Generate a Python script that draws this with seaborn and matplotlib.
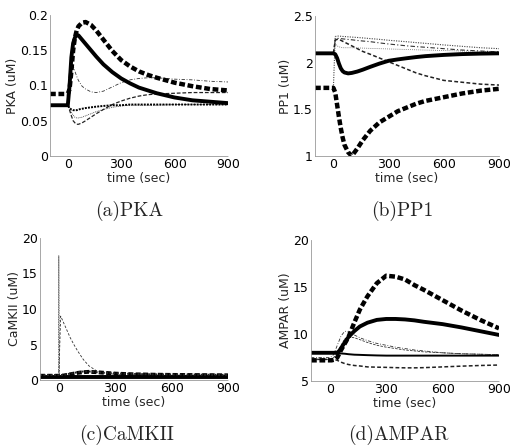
import numpy as np
import pandas as pd
import matplotlib
matplotlib.use("Agg")
import matplotlib.pyplot as plt
import seaborn as sns

sns.set_style("white")
plt.rcParams['font.family'] = ['DejaVu Sans']

# common time grid (sec)
t = [-100, 0, 10, 20, 30, 40, 50, 60, 80, 100, 130, 160, 200, 250, 300,
     350, 400, 450, 500, 600, 700, 800, 900]

# ---------------- (a) PKA ----------------
pka_thick_solid = [0.072, 0.072, 0.10, 0.14, 0.16, 0.168, 0.172, 0.171, 0.165, 0.159, 0.150,
                   0.141, 0.130, 0.119, 0.110, 0.103, 0.097, 0.093, 0.089, 0.083, 0.079, 0.077, 0.075]
pka_thick_dash = [0.088, 0.088, 0.095, 0.12, 0.15, 0.168, 0.178, 0.184, 0.189, 0.190, 0.186,
                  0.178, 0.165, 0.149, 0.136, 0.127, 0.120, 0.115, 0.111, 0.104, 0.099, 0.095, 0.093]
pka_thin_dashdot = [0.072, 0.072, 0.10, 0.13, 0.128, 0.12, 0.113, 0.107, 0.099, 0.095, 0.091,
                    0.090, 0.092, 0.098, 0.104, 0.108, 0.110, 0.111, 0.111, 0.109, 0.108, 0.106, 0.105]
pka_thin_dash = [0.072, 0.072, 0.065, 0.057, 0.050, 0.047, 0.045, 0.045, 0.047, 0.050, 0.055,
                 0.060, 0.066, 0.073, 0.078, 0.082, 0.085, 0.087, 0.088, 0.089, 0.090, 0.090, 0.090]
pka_thin_dot = [0.072, 0.072, 0.068, 0.062, 0.058, 0.055, 0.054, 0.054, 0.055, 0.057, 0.060,
                0.063, 0.066, 0.069, 0.071, 0.072, 0.072, 0.072, 0.072, 0.073, 0.073, 0.073, 0.073]
pka_mid_dot = [0.072, 0.072, 0.068, 0.066, 0.065, 0.065, 0.065, 0.066, 0.067, 0.068, 0.069,
               0.070, 0.071, 0.072, 0.072, 0.073, 0.073, 0.073, 0.073, 0.073, 0.073, 0.073, 0.073]

# ---------------- (b) PP1 ----------------
pp1_thick_solid = [2.10, 2.10, 2.09, 2.05, 1.99, 1.94, 1.91, 1.895, 1.885, 1.89, 1.905,
                   1.925, 1.955, 1.99, 2.02, 2.035, 2.048, 2.06, 2.07, 2.083, 2.092, 2.097, 2.10]
pp1_thick_dash = [1.73, 1.73, 1.68, 1.55, 1.42, 1.30, 1.20, 1.12, 1.04, 1.00, 1.08,
                  1.17, 1.27, 1.36, 1.42, 1.48, 1.52, 1.56, 1.59, 1.63, 1.67, 1.70, 1.72]
pp1_thin_dot = [np.nan, 1.73, 2.28, 2.285, 2.285, 2.283, 2.281, 2.28, 2.277, 2.274, 2.27,
                2.265, 2.258, 2.25, 2.24, 2.232, 2.224, 2.215, 2.207, 2.19, 2.175, 2.16, 2.15]
pp1_thin_dashdot = [np.nan, 2.10, 2.25, 2.26, 2.26, 2.258, 2.255, 2.253, 2.249, 2.245, 2.238,
                    2.232, 2.225, 2.212, 2.20, 2.19, 2.18, 2.172, 2.165, 2.15, 2.135, 2.125, 2.115]
pp1_thin_dash = [np.nan, 2.10, 2.24, 2.25, 2.25, 2.24, 2.23, 2.22, 2.20, 2.18, 2.15,
                 2.12, 2.09, 2.05, 2.01, 1.97, 1.93, 1.89, 1.86, 1.81, 1.79, 1.77, 1.76]
pp1_thin_dot2 = [np.nan, 2.10, 2.20, 2.18, 2.17, 2.165, 2.16, 2.16, 2.16, 2.16, 2.158,
                 2.156, 2.153, 2.15, 2.147, 2.144, 2.141, 2.138, 2.135, 2.13, 2.125, 2.12, 2.118]

# ---------------- (c) CaMKII ----------------
t_spike = [-100, -2, 0, 4, 900]
camk_spike = [0.5, 0.5, 17.5, 0.6, 0.6]
camk_thin_dash = [np.nan, 0.5, 9.0, 8.4, 7.8, 7.2, 6.6, 6.0, 5.0, 4.1, 2.9,
                  2.0, 1.3, 0.95, 0.8, 0.75, 0.72, 0.7, 0.7, 0.68, 0.66, 0.65, 0.65]
camk_thick_solid = [0.45, 0.45, 0.45, 0.45, 0.45, 0.45, 0.45, 0.45, 0.45, 0.45, 0.45,
                    0.45, 0.45, 0.45, 0.45, 0.45, 0.45, 0.45, 0.45, 0.45, 0.45, 0.45, 0.45]
camk_thick_dash = [0.6, 0.6, 0.6, 0.62, 0.65, 0.7, 0.75, 0.8, 0.9, 1.0, 1.1,
                   1.15, 1.1, 1.0, 0.9, 0.85, 0.8, 0.78, 0.75, 0.72, 0.7, 0.68, 0.66]
camk_mid_dot = [0.7, 0.7, 0.7, 0.72, 0.75, 0.8, 0.85, 0.9, 1.0, 1.1, 1.2,
                1.2, 1.1, 1.0, 0.95, 0.9, 0.85, 0.82, 0.8, 0.78, 0.76, 0.74, 0.72]

# ---------------- (d) AMPAR ----------------
amp_thick_dash = [7.2, 7.2, 7.2, 7.25, 7.3, 7.5, 7.9, 8.3, 9.0, 9.7, 11.2,
                  12.6, 14.0, 15.4, 16.2, 16.1, 15.8, 15.2, 14.7, 13.6, 12.5, 11.5, 10.6]
amp_thick_solid = [8.0, 8.0, 8.0, 8.0, 8.0, 8.0, 8.2, 8.5, 9.1, 9.7, 10.3,
                   10.8, 11.2, 11.5, 11.6, 11.6, 11.55, 11.45, 11.3, 11.05, 10.7, 10.3, 9.9]
amp_thin_dashdot = [7.5, 7.5, 7.6, 7.8, 8.3, 8.8, 9.3, 9.8, 10.3, 10.2, 9.9,
                    9.6, 9.3, 9.0, 8.8, 8.6, 8.45, 8.3, 8.2, 8.0, 7.9, 7.85, 7.8]
amp_thin_dash = [7.3, 7.3, 7.35, 7.5, 7.7, 8.0, 8.4, 8.8, 9.5, 9.7, 9.6,
                 9.4, 9.1, 8.8, 8.6, 8.45, 8.3, 8.2, 8.1, 8.0, 7.9, 7.85, 7.8]
amp_mid_solid = [8.0, 8.0, 8.0, 8.0, 7.98, 7.96, 7.95, 7.93, 7.9, 7.85, 7.8,
                 7.78, 7.75, 7.72, 7.7, 7.7, 7.7, 7.7, 7.7, 7.7, 7.7, 7.7, 7.7]
amp_thin_dash_low = [7.3, 7.3, 7.3, 7.28, 7.25, 7.2, 7.1, 7.0, 6.85, 6.75, 6.65,
                     6.6, 6.5, 6.47, 6.45, 6.42, 6.4, 6.4, 6.42, 6.5, 6.58, 6.65, 6.7]

xticks = [0, 300, 600, 900]

W, H = 511, 445
fig = plt.figure(figsize=(W / 100, H / 100), dpi=100)


def make_ax(left, top, right, bottom):
    return fig.add_axes([left / W, 1 - bottom / H, (right - left) / W, (bottom - top) / H])


axA = make_ax(50, 15, 228, 156)
axB = make_ax(315, 16, 499, 156)
axC = make_ax(40, 238, 228, 380)
axD = make_ax(311, 240, 499, 381)

THICK = 2.8
MID = 1.4
THIN = 0.6
dash_thick = (1.3, 0.6)


def draw(ax, x, y, lw, style, color='black'):
    sns.lineplot(x=x, y=y, ax=ax, color=color, linewidth=lw, linestyle=style,
                 estimator=None, sort=False)


# (a)
draw(axA, t, pka_thin_dashdot, THIN, (0, (4, 2, 1, 2)), '#333333')
draw(axA, t, pka_thin_dash, THIN + 0.3, (0, (3, 1.5)), '#222222')
draw(axA, t, pka_thin_dot, THIN, (0, (1, 1.2)), '#333333')
draw(axA, t, pka_mid_dot, MID, (0, (1, 0.6)), 'black')
draw(axA, t, pka_thick_dash, THICK + 0.4, (0, dash_thick), 'black')
draw(axA, t, pka_thick_solid, THICK, '-', 'black')

# (b)
draw(axB, t, pp1_thin_dot, THIN + 0.2, (0, (1, 1.2)), '#444444')
draw(axB, t, pp1_thin_dot2, THIN, (0, (1, 1.5)), '#666666')
draw(axB, t, pp1_thin_dashdot, THIN + 0.2, (0, (4, 2, 1, 2)), '#333333')
draw(axB, t, pp1_thin_dash, THIN + 0.5, (0, (2.5, 1.5)), '#222222')
draw(axB, t, pp1_thick_dash, THICK + 0.4, (0, dash_thick), 'black')
draw(axB, t, pp1_thick_solid, THICK, '-', 'black')

# (c)
draw(axC, t_spike, camk_spike, THIN, (0, (1, 1)), '#333333')
draw(axC, t, camk_thin_dash, THIN, (0, (3, 2)), '#333333')
draw(axC, t, camk_thick_solid, THICK, '-', 'black')
draw(axC, t, camk_thick_dash, THICK, (0, dash_thick), 'black')
draw(axC, t, camk_mid_dot, MID, (0, (1, 0.8)), '#222222')

# (d)
draw(axD, t, amp_thin_dashdot, THIN, (0, (4, 2, 1, 2)), '#333333')
draw(axD, t, amp_thin_dash, THIN, (0, (3, 1.5)), '#333333')
draw(axD, t, amp_thin_dash_low, THIN + 0.5, (0, (2.5, 1.5)), '#222222')
draw(axD, t, amp_mid_solid, MID, '-', 'black')
draw(axD, t, amp_thick_dash, THICK + 0.4, (0, dash_thick), 'black')
draw(axD, t, amp_thick_solid, THICK, '-', 'black')

specs = [
    (axA, (0, 0.2), [0, 0.05, 0.1, 0.15, 0.2], ['0', '0.05', '0.1', '0.15', '0.2'], 'PKA (uM)'),
    (axB, (1, 2.5), [1, 1.5, 2, 2.5], ['1', '1.5', '2', '2.5'], 'PP1 (uM)'),
    (axC, (0, 20), [0, 5, 10, 15, 20], ['0', '5', '10', '15', '20'], 'CaMKII (uM)'),
    (axD, (5, 20), [5, 10, 15, 20], ['5', '10', '15', '20'], 'AMPAR (uM)'),
]
for ax, ylim, yt, ytl, ylab in specs:
    ax.set_xlim(-100, 900)
    ax.set_ylim(*ylim)
    ax.set_xticks(xticks)
    ax.set_xticklabels([str(v) for v in xticks])
    ax.set_yticks(yt)
    ax.set_yticklabels(ytl)
    ax.set_xlabel('time (sec)', fontsize=9, labelpad=0.5)
    ax.set_ylabel(ylab, fontsize=9, labelpad=0.5)
    ax.tick_params(direction='in', length=2, width=0.5, labelsize=9, pad=1.5,
                   colors='#888888', labelcolor='black')
    for s in ['top', 'right']:
        ax.spines[s].set_visible(False)
    for s in ['left', 'bottom']:
        ax.spines[s].set_color('#999999')
        ax.spines[s].set_linewidth(0.6)
        ax.spines[s].set_linestyle((0, (3, 1, 1, 1)))
    ax.set_facecolor('white')
    ax.grid(False)

cap_font = dict(family=['cmr10', 'DejaVu Serif'], fontsize=14, ha='center', va='center')
fig.text(129 / W, 1 - 211 / H, '(a)PKA', **cap_font)
fig.text(402 / W, 1 - 211 / H, '(b)PP1', **cap_font)
fig.text(127 / W, 1 - 435 / H, '(c)CaMKII', **cap_font)
fig.text(398 / W, 1 - 435 / H, '(d)AMPAR', **cap_font)

fig.savefig('out.png', dpi=100, facecolor='white')
